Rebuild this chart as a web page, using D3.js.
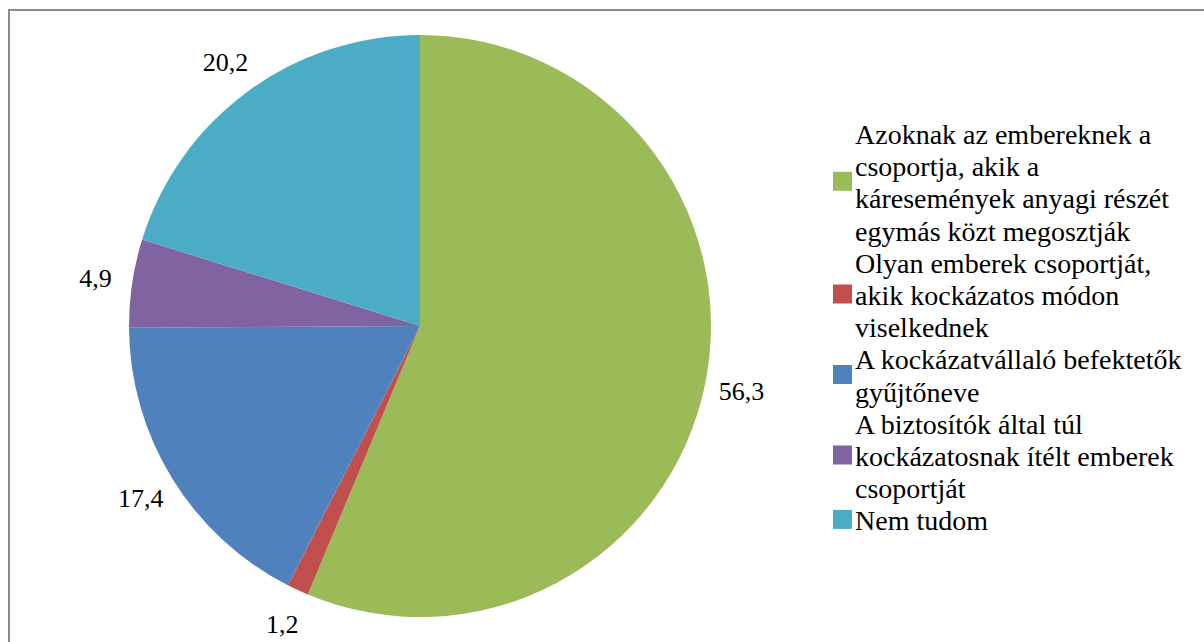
<!DOCTYPE html>
<html>
<head>
<meta charset="utf-8">
<script src="https://cdn.jsdelivr.net/npm/d3@7"></script>
<style>
  html, body { margin: 0; padding: 0; background: #fff; }
  svg { display: block; }
  .serif { font-family: "Liberation Serif", "Times New Roman", Times, "DejaVu Serif", serif; }
</style>
</head>
<body>
<svg id="chart" width="1204" height="642"></svg>
<script>
// ---- data ----
const categories = [
  ["Azoknak az embereknek a", "csoportja, akik a", "káresemények anyagi részét", "egymás közt megosztják"],
  ["Olyan emberek csoportját,", "akik kockázatos módon", "viselkednek"],
  ["A kockázatvállaló befektetők", "gyűjtőneve"],
  ["A biztosítók által túl", "kockázatosnak ítélt emberek", "csoportját"],
  ["Nem tudom"]
];
const values = [56.3, 1.2, 17.4, 4.9, 20.2];
const valueLabels = ["56,3", "1,2", "17,4", "4,9", "20,2"];
const colors = ["#9BBB59", "#C0504D", "#4F81BD", "#8064A2", "#4BACC6"];

// ---- layout ----
const svg = d3.select("#chart");
const W = 1204, H = 642;
const cx = 420, cy = 326, r = 291;
const labelR = 328;

// border
svg.append("rect")
  .attr("x", 9).attr("y", 10)
  .attr("width", W + 20).attr("height", H + 20)
  .attr("fill", "none")
  .attr("stroke", "#8c8c8c")
  .attr("stroke-width", 2);

const pie = d3.pie().sort(null).value(d => d)
  .startAngle(0).endAngle(2 * Math.PI);
const arcs = pie(values);
const arc = d3.arc().innerRadius(0).outerRadius(r);
const labelArc = d3.arc().innerRadius(labelR).outerRadius(labelR);

const g = svg.append("g").attr("transform", `translate(${cx},${cy})`);
g.selectAll("path.slice")
  .data(arcs)
  .enter().append("path")
  .attr("class", "slice")
  .attr("d", arc)
  .attr("fill", (d, i) => colors[i]);

g.selectAll("text.vlabel")
  .data(arcs)
  .enter().append("text")
  .attr("class", "vlabel serif")
  .attr("transform", d => `translate(${labelArc.centroid(d)})`)
  .attr("text-anchor", "middle")
  .attr("dy", "0.35em")
  .attr("font-size", 26)
  .attr("fill", "#000")
  .text((d, i) => valueLabels[i]);

// ---- legend ----
const lineH = 32.2;
const firstBaseline = 144;
const textX = 855;
const sq = 19;
const sqX = 833;
const legend = svg.append("g");
let lineIdx = 0;
categories.forEach((lines, i) => {
  const b0 = firstBaseline + lineIdx * lineH;
  const bN = b0 + (lines.length - 1) * lineH;
  const mid = (b0 + bN) / 2 - 11;
  legend.append("rect")
    .attr("x", sqX).attr("y", mid - sq / 2)
    .attr("width", sq).attr("height", sq)
    .attr("fill", colors[i]);
  const t = legend.append("text")
    .attr("class", "serif")
    .attr("font-size", 28)
    .attr("fill", "#000");
  lines.forEach((ln, j) => {
    t.append("tspan")
      .attr("x", textX)
      .attr("y", b0 + j * lineH)
      .text(ln);
  });
  lineIdx += lines.length;
});
</script>
</body>
</html>
